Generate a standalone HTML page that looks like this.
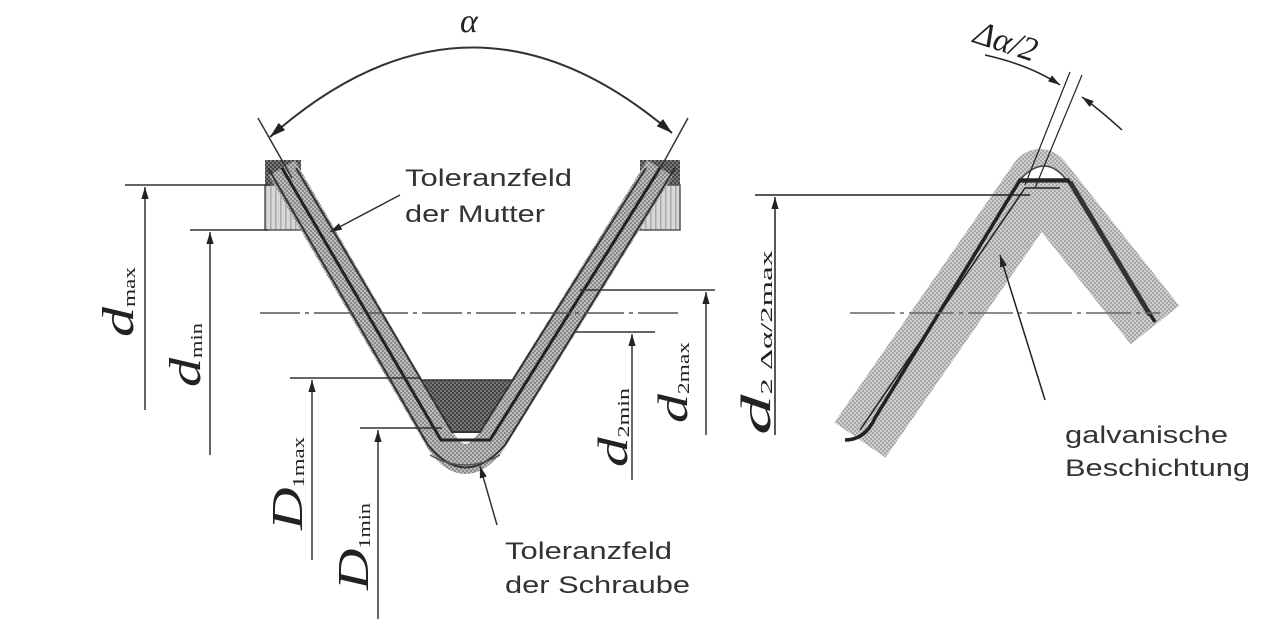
<!DOCTYPE html>
<html><head><meta charset="utf-8"><style>
html,body{margin:0;padding:0;background:#fff;width:1280px;height:619px;overflow:hidden}
svg{display:block}
.t{font-family:"Liberation Sans",sans-serif;font-size:24px;fill:#333}
.m{font-family:"Liberation Serif",serif;font-style:italic;fill:#222}
.s{font-style:normal}
</style></head><body>
<svg width="1280" height="619" viewBox="0 0 1280 619" xmlns="http://www.w3.org/2000/svg">
<defs>
<pattern id="chk" width="4" height="4" patternUnits="userSpaceOnUse">
<rect width="4" height="4" fill="#bdbdbd"/><rect width="2" height="2" fill="#8a8a8a"/><rect x="2" y="2" width="2" height="2" fill="#8a8a8a"/>
</pattern>
<pattern id="dk" width="4" height="4" patternUnits="userSpaceOnUse">
<rect width="4" height="4" fill="#777"/><rect width="2" height="2" fill="#444"/><rect x="2" y="2" width="2" height="2" fill="#444"/>
</pattern>
<pattern id="vl" width="5" height="5" patternUnits="userSpaceOnUse">
<rect width="5" height="5" fill="#d8d8d8"/><rect width="1.5" height="5" fill="#aaa"/>
</pattern>
<marker id="ar" viewBox="0 0 10 10" refX="10" refY="5" markerWidth="8" markerHeight="8" orient="auto-start-reverse"><path d="M0,2 L10,5 L0,8 z" fill="#222"/></marker>
</defs>

<rect x="265" y="160" width="36" height="25" fill="url(#dk)"/>
<rect x="265" y="185" width="36" height="45" fill="url(#vl)" stroke="#555" stroke-width="1.5"/>
<rect x="640" y="160" width="40" height="25" fill="url(#dk)"/>
<rect x="640" y="185" width="40" height="45" fill="url(#vl)" stroke="#555" stroke-width="1.5"/>
<path d="M412,380 L518,380 L492,432 L440,432 Z" fill="url(#dk)" stroke="#333" stroke-width="1.5"/>
<path d="M438,432 Q465,470 494,432 Z" fill="#fff"/>
<path d="M282,168 L440,440 Q465,478 492,440 L660,168" fill="none" stroke="url(#chk)" stroke-width="30" stroke-linejoin="round"/>
<path d="M268,168 L428,445 Q465,490 505,445 L675,168" fill="none" stroke="#333" stroke-width="2"/>
<path d="M296,168 L452,432 L480,432 L646,168" fill="none" stroke="#333" stroke-width="2"/>
<path d="M282,168 L441,440 L490,440 L660,168" fill="none" stroke="#222" stroke-width="3"/>
<path d="M430,455 Q465,475 500,455" fill="none" stroke="#555" stroke-width="1.5"/>

<g stroke="#333" stroke-width="1.5" fill="none">
<line x1="125" y1="185" x2="270" y2="185"/>
<line x1="145" y1="410" x2="145" y2="187" marker-end="url(#ar)"/>
<line x1="190" y1="230" x2="268" y2="230"/>
<line x1="210" y1="455" x2="210" y2="232" marker-end="url(#ar)"/>
<line x1="260" y1="313" x2="680" y2="313" stroke-dasharray="40,5,4,5" stroke="#555"/>
<line x1="290" y1="378" x2="420" y2="378"/>
<line x1="312" y1="560" x2="312" y2="380" marker-end="url(#ar)"/>
<line x1="360" y1="428" x2="442" y2="428"/>
<line x1="378" y1="619" x2="378" y2="430" marker-end="url(#ar)"/>
<line x1="575" y1="332" x2="655" y2="332"/>
<line x1="632" y1="480" x2="632" y2="334" marker-end="url(#ar)"/>
<line x1="580" y1="290" x2="715" y2="290"/>
<line x1="706" y1="435" x2="706" y2="292" marker-end="url(#ar)"/>
<line x1="258" y1="118" x2="292" y2="178"/>
<line x1="688" y1="118" x2="655" y2="178"/>
<path d="M270,137 Q470,-40 672,133" marker-start="url(#ar)" marker-end="url(#ar)" stroke-width="2"/>
<line x1="400" y1="195" x2="330" y2="232" marker-end="url(#ar)"/>
<line x1="497" y1="525" x2="480" y2="466" marker-end="url(#ar)"/>
</g>
<text class="m" x="460" y="32" font-size="34">α</text>
<text class="t" x="405" y="186" textLength="167" lengthAdjust="spacingAndGlyphs">Toleranzfeld</text>
<text class="t" x="405" y="222" textLength="140" lengthAdjust="spacingAndGlyphs">der Mutter</text>
<text class="t" x="505" y="559" textLength="167" lengthAdjust="spacingAndGlyphs">Toleranzfeld</text>
<text class="t" x="505" y="593" textLength="185" lengthAdjust="spacingAndGlyphs">der Schraube</text>

<g class="m">
<text transform="translate(133,337) rotate(-90)" font-size="44" textLength="70" lengthAdjust="spacingAndGlyphs">d<tspan class="s" font-size="17" dy="2">max</tspan></text>
<text transform="translate(200,387) rotate(-90)" font-size="44" textLength="64" lengthAdjust="spacingAndGlyphs">d<tspan class="s" font-size="17" dy="2">min</tspan></text>
<text transform="translate(302,530) rotate(-90)" font-size="44" textLength="93" lengthAdjust="spacingAndGlyphs">D<tspan class="s" font-size="17" dy="2">1max</tspan></text>
<text transform="translate(368,590) rotate(-90)" font-size="44" textLength="87" lengthAdjust="spacingAndGlyphs">D<tspan class="s" font-size="17" dy="2">1min</tspan></text>
<text transform="translate(627,467) rotate(-90)" font-size="42" textLength="79" lengthAdjust="spacingAndGlyphs">d<tspan class="s" font-size="17" dy="2">2min</tspan></text>
<text transform="translate(687,423) rotate(-90)" font-size="42" textLength="81" lengthAdjust="spacingAndGlyphs">d<tspan class="s" font-size="17" dy="2">2max</tspan></text>
<text transform="translate(770,435) rotate(-90)" font-size="42" textLength="185" lengthAdjust="spacingAndGlyphs">d<tspan class="s" font-size="17" dy="2">2 Δα/2max</tspan></text>
<text transform="translate(972,42) rotate(18)" font-size="34">Δα/2</text>
</g>

<path d="M860,440 L1040,180 L1155,325" fill="none" stroke="url(#chk)" stroke-width="62" stroke-linejoin="round" opacity="0.75"/>
<path d="M1018,182 Q1045,150 1068,182 Z" fill="#fff" stroke="#444" stroke-width="1.5"/>
<g stroke="#222" fill="none">
<path d="M845,440 Q865,440 875,418 L1020,180 L1068,180 L1155,322" stroke-width="3.5"/>
<path d="M860,430 L1025,188 L1060,188" stroke-width="1.5"/>
<path d="M1070,182 L1150,315" stroke-width="5" stroke="#333"/>
<line x1="755" y1="195" x2="1030" y2="195" stroke-width="1.5"/>
<line x1="775" y1="435" x2="775" y2="197" stroke-width="1.5" marker-end="url(#ar)"/>
<line x1="850" y1="313" x2="1160" y2="313" stroke-width="1.5" stroke="#666" stroke-dasharray="45,5,4,5"/>
<line x1="1025" y1="185" x2="1070" y2="72" stroke-width="1.2"/>
<line x1="1035" y1="188" x2="1082" y2="75" stroke-width="1.2"/>
<path d="M985,55 Q1030,65 1060,85" stroke-width="1.5" marker-end="url(#ar)"/>
<path d="M1122,130 Q1100,110 1082,97" stroke-width="1.5" marker-end="url(#ar)"/>
<line x1="1045" y1="400" x2="1000" y2="255" stroke-width="1.5" marker-end="url(#ar)"/>
</g>
<text class="t" x="1065" y="443" textLength="163" lengthAdjust="spacingAndGlyphs">galvanische</text>
<text class="t" x="1065" y="476" textLength="185" lengthAdjust="spacingAndGlyphs">Beschichtung</text>
</svg>
</body></html>
